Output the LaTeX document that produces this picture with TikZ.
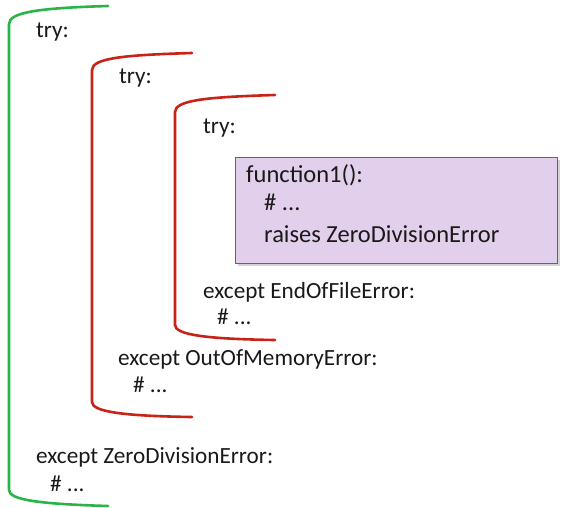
\documentclass[tikz,border=0pt]{standalone}
\usepackage{fontspec}
\setmainfont{Carlito}
\usetikzlibrary{shadows}
\definecolor{brgreen}{RGB}{40,180,70}
\definecolor{brred}{RGB}{200,35,25}
\definecolor{boxfill}{RGB}{226,207,236}
\definecolor{boxline}{RGB}{85,95,175}
\definecolor{txt}{RGB}{25,25,25}
\tikzset{
  code/.style={anchor=base west, inner sep=0pt, text=txt, font=\fontsize{23.2}{27}\selectfont},
  bigcode/.style={anchor=base west, inner sep=0pt, text=txt, font=\fontsize{24.5}{28}\selectfont},
  bracket/.style={line width=2.6pt, line cap=round},
}
\begin{document}
\begin{tikzpicture}[x=1pt,y=-1pt]
\useasboundingbox (0,0) rectangle (562,507);
% green bracket
\draw[bracket, brgreen] (108,6) .. controls (40,8) and (9,12) .. (9,24) -- (9,490) .. controls (9,500) and (40,504) .. (108,506);
% red bracket 1
\draw[bracket, brred] (192,53) .. controls (125,55) and (92,58) .. (92,70) -- (92,402) .. controls (92,412) and (125,416) .. (192,417);
% red bracket 2
\draw[bracket, brred] (275,95) .. controls (208,97) and (175,100) .. (175,112) -- (175,325) .. controls (175,335) and (208,339) .. (275,340);
% box
\node[draw=boxline, fill=boxfill, line width=1pt, minimum width=322pt, minimum height=106pt, anchor=north west, inner sep=0pt,
  drop shadow={shadow xshift=2pt, shadow yshift=-2pt, opacity=0.35}] (box) at (235,157) {};
\node[bigcode] (f1) at (246,182) {function1():};
\node[bigcode] (f2) at (264,210) {\# ...};
\node[bigcode] (f3) at (264,242) {raises ZeroDivisionError};
% texts
\node[code] (t1) at (36,37) {try:};
\node[code] (t2) at (119,83) {try:};
\node[code] (t3) at (203,133) {try:};
\node[code] (e3) at (203,298) {except EndOfFileError:};
\node[code] (h3) at (217,324) {\# ...};
\node[code] (e2) at (118,365) {except OutOfMemoryError:};
\node[code] (h2) at (133,392) {\# ...};
\node[code] (e1) at (36,463) {except ZeroDivisionError:};
\node[code] (h1) at (50,491) {\# ...};
\end{tikzpicture}
\end{document}
